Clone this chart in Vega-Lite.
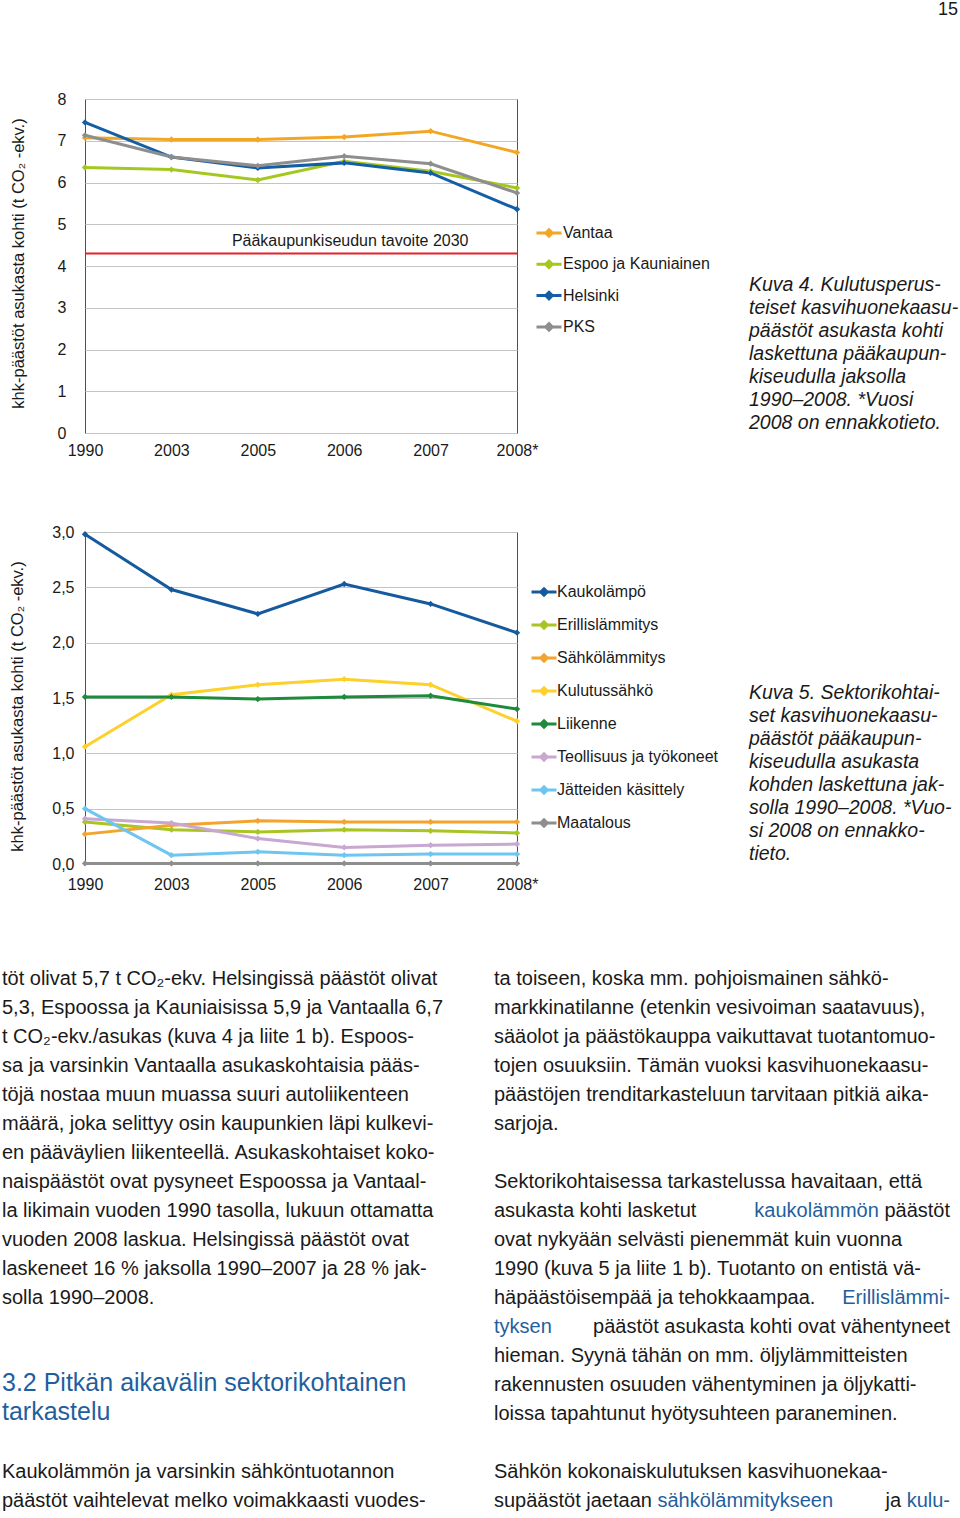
{
  "$schema": "https://vega.github.io/schema/vega-lite/v6.json",
  "background": "white",
  "padding": {"left": 2, "top": 0, "right": 0, "bottom": 0},
  "bounds": "flush",
  "spacing": 99,
  "title": {"text": "15", "anchor": "start", "frame": "group", "dx": 853, "offset": 72, "fontSize": 18, "fontWeight": "normal", "font": "Liberation Sans", "color": "#1a1a1a"},
  "resolve": {"scale": {"color": "independent"}, "legend": {"color": "independent"}},
  "config": {
    "font": "Liberation Sans",
    "view": {"stroke": "#505050", "strokeWidth": 1},
    "axis": {"labelFont": "Liberation Sans", "labelFontSize": 16, "labelColor": "#1a1a1a", "titleFont": "Liberation Sans", "titleFontSize": 16.5, "titleFontWeight": "normal", "titleColor": "#1a1a1a", "ticks": false, "domain": false, "gridColor": "#c4c4c4", "gridWidth": 1},
    "text": {"font": "Liberation Sans"}
  },
  "datasets": {
    "city": [
      {"year": "1990", "city": "Vantaa", "value": 7.07},
      {"year": "2003", "city": "Vantaa", "value": 7.03},
      {"year": "2005", "city": "Vantaa", "value": 7.03},
      {"year": "2006", "city": "Vantaa", "value": 7.09},
      {"year": "2007", "city": "Vantaa", "value": 7.23},
      {"year": "2008*", "city": "Vantaa", "value": 6.72},
      {"year": "1990", "city": "Espoo ja Kauniainen", "value": 6.36},
      {"year": "2003", "city": "Espoo ja Kauniainen", "value": 6.31},
      {"year": "2005", "city": "Espoo ja Kauniainen", "value": 6.06},
      {"year": "2006", "city": "Espoo ja Kauniainen", "value": 6.51},
      {"year": "2007", "city": "Espoo ja Kauniainen", "value": 6.27},
      {"year": "2008*", "city": "Espoo ja Kauniainen", "value": 5.87},
      {"year": "1990", "city": "Helsinki", "value": 7.44},
      {"year": "2003", "city": "Helsinki", "value": 6.61},
      {"year": "2005", "city": "Helsinki", "value": 6.35},
      {"year": "2006", "city": "Helsinki", "value": 6.47},
      {"year": "2007", "city": "Helsinki", "value": 6.23},
      {"year": "2008*", "city": "Helsinki", "value": 5.36},
      {"year": "1990", "city": "PKS", "value": 7.13},
      {"year": "2003", "city": "PKS", "value": 6.61},
      {"year": "2005", "city": "PKS", "value": 6.40},
      {"year": "2006", "city": "PKS", "value": 6.63},
      {"year": "2007", "city": "PKS", "value": 6.45},
      {"year": "2008*", "city": "PKS", "value": 5.75}
    ],
    "target": [
      {"label": "Pääkaupunkiseudun tavoite 2030", "value": 4.3}
    ],
    "sector": [
      {"year": "1990", "sector": "Kaukolämpö", "value": 2.98},
      {"year": "2003", "sector": "Kaukolämpö", "value": 2.48},
      {"year": "2005", "sector": "Kaukolämpö", "value": 2.26},
      {"year": "2006", "sector": "Kaukolämpö", "value": 2.53},
      {"year": "2007", "sector": "Kaukolämpö", "value": 2.35},
      {"year": "2008*", "sector": "Kaukolämpö", "value": 2.09},
      {"year": "1990", "sector": "Erillislämmitys", "value": 0.38},
      {"year": "2003", "sector": "Erillislämmitys", "value": 0.31},
      {"year": "2005", "sector": "Erillislämmitys", "value": 0.29},
      {"year": "2006", "sector": "Erillislämmitys", "value": 0.31},
      {"year": "2007", "sector": "Erillislämmitys", "value": 0.30},
      {"year": "2008*", "sector": "Erillislämmitys", "value": 0.28},
      {"year": "1990", "sector": "Sähkölämmitys", "value": 0.27},
      {"year": "2003", "sector": "Sähkölämmitys", "value": 0.35},
      {"year": "2005", "sector": "Sähkölämmitys", "value": 0.39},
      {"year": "2006", "sector": "Sähkölämmitys", "value": 0.38},
      {"year": "2007", "sector": "Sähkölämmitys", "value": 0.38},
      {"year": "2008*", "sector": "Sähkölämmitys", "value": 0.38},
      {"year": "1990", "sector": "Kulutussähkö", "value": 1.06},
      {"year": "2003", "sector": "Kulutussähkö", "value": 1.53},
      {"year": "2005", "sector": "Kulutussähkö", "value": 1.62},
      {"year": "2006", "sector": "Kulutussähkö", "value": 1.67},
      {"year": "2007", "sector": "Kulutussähkö", "value": 1.62},
      {"year": "2008*", "sector": "Kulutussähkö", "value": 1.29},
      {"year": "1990", "sector": "Liikenne", "value": 1.51},
      {"year": "2003", "sector": "Liikenne", "value": 1.51},
      {"year": "2005", "sector": "Liikenne", "value": 1.49},
      {"year": "2006", "sector": "Liikenne", "value": 1.51},
      {"year": "2007", "sector": "Liikenne", "value": 1.52},
      {"year": "2008*", "sector": "Liikenne", "value": 1.40},
      {"year": "1990", "sector": "Teollisuus ja työkoneet", "value": 0.41},
      {"year": "2003", "sector": "Teollisuus ja työkoneet", "value": 0.37},
      {"year": "2005", "sector": "Teollisuus ja työkoneet", "value": 0.23},
      {"year": "2006", "sector": "Teollisuus ja työkoneet", "value": 0.15},
      {"year": "2007", "sector": "Teollisuus ja työkoneet", "value": 0.17},
      {"year": "2008*", "sector": "Teollisuus ja työkoneet", "value": 0.18},
      {"year": "1990", "sector": "Jätteiden käsittely", "value": 0.50},
      {"year": "2003", "sector": "Jätteiden käsittely", "value": 0.08},
      {"year": "2005", "sector": "Jätteiden käsittely", "value": 0.11},
      {"year": "2006", "sector": "Jätteiden käsittely", "value": 0.08},
      {"year": "2007", "sector": "Jätteiden käsittely", "value": 0.09},
      {"year": "2008*", "sector": "Jätteiden käsittely", "value": 0.09},
      {"year": "1990", "sector": "Maatalous", "value": 0.005},
      {"year": "2003", "sector": "Maatalous", "value": 0.005},
      {"year": "2005", "sector": "Maatalous", "value": 0.005},
      {"year": "2006", "sector": "Maatalous", "value": 0.005},
      {"year": "2007", "sector": "Maatalous", "value": 0.005},
      {"year": "2008*", "sector": "Maatalous", "value": 0.005}
    ],
    "body": [
      {"column": "left", "line": 0, "role": "text", "text": "töt olivat 5,7 t CO₂-ekv. Helsingissä päästöt olivat"},
      {"column": "left", "line": 1, "role": "text", "text": "5,3, Espoossa ja Kauniaisissa 5,9 ja Vantaalla 6,7"},
      {"column": "left", "line": 2, "role": "text", "text": "t CO₂-ekv./asukas (kuva 4 ja liite 1 b). Espoos-"},
      {"column": "left", "line": 3, "role": "text", "text": "sa ja varsinkin Vantaalla asukaskohtaisia pääs-"},
      {"column": "left", "line": 4, "role": "text", "text": "töjä nostaa muun muassa suuri autoliikenteen"},
      {"column": "left", "line": 5, "role": "text", "text": "määrä, joka selittyy osin kaupunkien läpi kulkevi-"},
      {"column": "left", "line": 6, "role": "text", "text": "en pääväylien liikenteellä. Asukaskohtaiset koko-"},
      {"column": "left", "line": 7, "role": "text", "text": "naispäästöt ovat pysyneet Espoossa ja Vantaal-"},
      {"column": "left", "line": 8, "role": "text", "text": "la likimain vuoden 1990 tasolla, lukuun ottamatta"},
      {"column": "left", "line": 9, "role": "text", "text": "vuoden 2008 laskua. Helsingissä päästöt ovat"},
      {"column": "left", "line": 10, "role": "text", "text": "laskeneet 16 % jaksolla 1990–2007 ja 28 % jak-"},
      {"column": "left", "line": 11, "role": "text", "text": "solla 1990–2008."},
      {"column": "left", "line": 17, "role": "text", "text": "Kaukolämmön ja varsinkin sähköntuotannon"},
      {"column": "left", "line": 18, "role": "text", "text": "päästöt vaihtelevat melko voimakkaasti vuodes-"},
      {"column": "right", "line": 0, "role": "text", "text": "ta toiseen, koska mm. pohjoismainen sähkö-"},
      {"column": "right", "line": 1, "role": "text", "text": "markkinatilanne (etenkin vesivoiman saatavuus),"},
      {"column": "right", "line": 2, "role": "text", "text": "sääolot ja päästökauppa vaikuttavat tuotantomuo-"},
      {"column": "right", "line": 3, "role": "text", "text": "tojen osuuksiin. Tämän vuoksi kasvihuonekaasu-"},
      {"column": "right", "line": 4, "role": "text", "text": "päästöjen trenditarkasteluun tarvitaan pitkiä aika-"},
      {"column": "right", "line": 5, "role": "text", "text": "sarjoja."},
      {"column": "right", "line": 7, "role": "text", "text": "Sektorikohtaisessa tarkastelussa havaitaan, että"},
      {"column": "right", "line": 8, "role": "text", "text": "asukasta kohti lasketut"},
      {"column": "right", "line": 9, "role": "text", "text": "ovat nykyään selvästi pienemmät kuin vuonna"},
      {"column": "right", "line": 10, "role": "text", "text": "1990 (kuva 5 ja liite 1 b). Tuotanto on entistä vä-"},
      {"column": "right", "line": 11, "role": "text", "text": "häpäästöisempää ja tehokkaampaa."},
      {"column": "right", "line": 12, "role": "link", "text": "tyksen"},
      {"column": "right", "line": 13, "role": "text", "text": "hieman. Syynä tähän on mm. öljylämmitteisten"},
      {"column": "right", "line": 14, "role": "text", "text": "rakennusten osuuden vähentyminen ja öljykatti-"},
      {"column": "right", "line": 15, "role": "text", "text": "loissa tapahtunut hyötysuhteen paraneminen."},
      {"column": "right", "line": 17, "role": "text", "text": "Sähkön kokonaiskulutuksen kasvihuonekaa-"},
      {"column": "right", "line": 18, "role": "link", "text": "supäästöt jaetaan sähkölämmitykseen"},
      {"column": "right", "line": 18, "role": "mask", "text": "supäästöt jaetaan"},
      {"column": "right", "line": 18, "role": "text", "text": "supäästöt jaetaan"}
    ],
    "lineEnds": [
      {"column": "right", "line": 8, "role": "link", "text": "kaukolämmön päästöt"},
      {"column": "right", "line": 8, "role": "mask", "text": "päästöt"},
      {"column": "right", "line": 8, "role": "text", "text": "päästöt"},
      {"column": "right", "line": 11, "role": "link", "text": "Erillislämmi-"},
      {"column": "right", "line": 12, "role": "text", "text": "päästöt asukasta kohti ovat vähentyneet"},
      {"column": "right", "line": 18, "role": "text", "text": "ja kulu-"},
      {"column": "right", "line": 18, "role": "mask", "text": "kulu-"},
      {"column": "right", "line": 18, "role": "link", "text": "kulu-"}
    ],
    "heading": [
      {"column": "left", "line": 13.93, "text": "3.2 Pitkän aikavälin sektorikohtainen"},
      {"column": "left", "line": 14.93, "text": "tarkastelu"}
    ]
  },
  "vconcat": [
    {
      "width": 432,
      "height": 334,
      "title": {
        "text": ["Kuva 4. Kulutusperus-", "teiset kasvihuonekaasu-", "päästöt asukasta kohti", "laskettuna pääkaupun-", "kiseudulla jaksolla", "1990–2008. *Vuosi", "2008 on ennakkotieto."],
        "anchor": "start", "frame": "group", "dx": 664, "dy": 342, "offset": 0,
        "font": "Liberation Sans", "fontSize": 19.5, "fontStyle": "italic", "fontWeight": "normal", "lineHeight": 23, "color": "#1a1a1a"
      },
      "layer": [
        {
          "data": {"name": "city"},
          "mark": {"type": "line", "strokeWidth": 3, "point": {"shape": "diamond", "filled": true, "size": 40}},
          "encoding": {
            "x": {"field": "year", "type": "ordinal", "scale": {"type": "point", "padding": 0, "domain": ["1990", "2003", "2005", "2006", "2007", "2008*"]},
                  "axis": {"title": null, "grid": false, "labelAngle": 0, "labelPadding": 9, "labelDx": 3}},
            "y": {"field": "value", "type": "quantitative", "scale": {"domain": [0, 8]},
                  "axis": {"values": [0, 1, 2, 3, 4, 5, 6, 7, 8], "title": "khk-päästöt asukasta kohti (t CO₂ -ekv.)", "labelPadding": 19, "titleX": -67, "titleY": 164, "titleBaseline": "middle", "titleAlign": "center"}},
            "color": {"field": "city", "type": "nominal",
                      "scale": {"domain": ["Vantaa", "Espoo ja Kauniainen", "Helsinki", "PKS"], "range": ["#f3a624", "#a5c820", "#145ea6", "#8e8e8e"]},
                      "legend": {"orient": "none", "legendX": 450, "legendY": 120, "title": null, "padding": 0,
                                 "symbolType": "M-1,0L1,0M0,-0.26L0.26,0L0,0.26L-0.26,0Z", "symbolSize": 625, "symbolStrokeWidth": 3,
                                 "labelFont": "Liberation Sans", "labelFontSize": 16, "labelColor": "#1a1a1a", "labelOffset": 0, "labelLimit": 300, "rowPadding": 7.3}}
          }
        },
        {
          "data": {"name": "target"},
          "mark": {"type": "rule", "color": "#e2232a", "strokeWidth": 2},
          "encoding": {"y": {"field": "value", "type": "quantitative"}}
        },
        {
          "data": {"name": "target"},
          "mark": {"type": "text", "fontSize": 16, "baseline": "bottom", "align": "center", "dy": -4, "dx": 6, "color": "#1a1a1a"},
          "encoding": {"x": {"datum": "2006"}, "y": {"field": "value", "type": "quantitative"}, "text": {"field": "label"}}
        }
      ]
    },
    {
      "width": 432,
      "height": 332,
      "title": {
        "text": ["Kuva 5. Sektorikohtai-", "set kasvihuonekaasu-", "päästöt pääkaupun-", "kiseudulla asukasta", "kohden laskettuna jak-", "solla 1990–2008. *Vuo-", "si 2008 on ennakko-", "tieto."],
        "anchor": "start", "frame": "group", "dx": 664, "dy": 340, "offset": 0,
        "font": "Liberation Sans", "fontSize": 19.5, "fontStyle": "italic", "fontWeight": "normal", "lineHeight": 23, "color": "#1a1a1a"
      },
      "data": {"name": "sector"},
      "mark": {"type": "line", "strokeWidth": 3, "point": {"shape": "diamond", "filled": true, "size": 40}},
      "encoding": {
        "x": {"field": "year", "type": "ordinal", "scale": {"type": "point", "padding": 0, "domain": ["1990", "2003", "2005", "2006", "2007", "2008*"]},
              "axis": {"title": null, "grid": false, "labelAngle": 0, "labelPadding": 12, "labelDx": 3}},
        "y": {"field": "value", "type": "quantitative", "scale": {"domain": [0, 3]},
              "axis": {"values": [0, 0.5, 1, 1.5, 2, 2.5, 3], "labelExpr": "replace(format(datum.value, '.1f'), '.', ',')", "title": "khk-päästöt asukasta kohti (t CO₂ -ekv.)", "labelPadding": 11, "titleX": -68, "titleY": 174, "titleBaseline": "middle", "titleAlign": "center"}},
        "color": {"field": "sector", "type": "nominal",
                  "scale": {"domain": ["Kaukolämpö", "Erillislämmitys", "Sähkölämmitys", "Kulutussähkö", "Liikenne", "Teollisuus ja työkoneet", "Jätteiden käsittely", "Maatalous"],
                            "range": ["#165a9e", "#a8c523", "#f2a42e", "#fdd02c", "#1e8a3c", "#c9a7d0", "#6ec6f0", "#8e8e8e"]},
                  "legend": {"orient": "none", "legendX": 445, "legendY": 46, "title": null, "padding": 0,
                             "symbolType": "M-1,0L1,0M0,-0.26L0.26,0L0,0.26L-0.26,0Z", "symbolSize": 625, "symbolStrokeWidth": 3,
                             "labelFont": "Liberation Sans", "labelFontSize": 16, "labelColor": "#1a1a1a", "labelOffset": -1, "labelLimit": 300, "rowPadding": 9}}
      }
    },
    {
      "width": 480,
      "height": 551,
      "view": {"stroke": null},
      "resolve": {"scale": {"x": "independent"}},
      "layer": [
        {
          "data": {"name": "body"},
          "mark": {"type": "text", "align": "left", "baseline": "middle", "fontSize": 20, "font": "Liberation Sans", "stroke": "white"},
          "encoding": {
            "x": {"field": "column", "type": "nominal", "scale": {"type": "point", "domain": ["left", "right"], "range": [-83, 409], "padding": 0}, "axis": null},
            "y": {"field": "line", "type": "quantitative", "scale": {"domain": [0, 18], "range": [16, 538]}, "axis": null},
            "text": {"field": "text"},
            "color": {"field": "role", "type": "nominal", "scale": {"domain": ["text", "link", "mask"], "range": ["#1a1a1a", "#1f5f9e", "#ffffff"]}, "legend": null},
            "strokeWidth": {"condition": {"test": "datum.role === 'mask'", "value": 3.5}, "value": 0}
          }
        },
        {
          "data": {"name": "lineEnds"},
          "mark": {"type": "text", "align": "right", "baseline": "middle", "fontSize": 20, "font": "Liberation Sans", "stroke": "white"},
          "encoding": {
            "x": {"field": "column", "type": "nominal", "scale": {"type": "point", "domain": ["left", "right"], "range": [373, 865], "padding": 0}, "axis": null},
            "y": {"field": "line", "type": "quantitative"},
            "text": {"field": "text"},
            "color": {"field": "role", "type": "nominal", "legend": null},
            "strokeWidth": {"condition": {"test": "datum.role === 'mask'", "value": 3.5}, "value": 0}
          }
        },
        {
          "data": {"name": "heading"},
          "mark": {"type": "text", "align": "left", "baseline": "middle", "fontSize": 25, "font": "Liberation Sans", "color": "#1f5f9e"},
          "encoding": {
            "x": {"field": "column", "type": "nominal", "scale": {"type": "point", "domain": ["left", "right"], "range": [-83, 409], "padding": 0}, "axis": null},
            "y": {"field": "line", "type": "quantitative"},
            "text": {"field": "text"}
          }
        }
      ]
    }
  ]
}
